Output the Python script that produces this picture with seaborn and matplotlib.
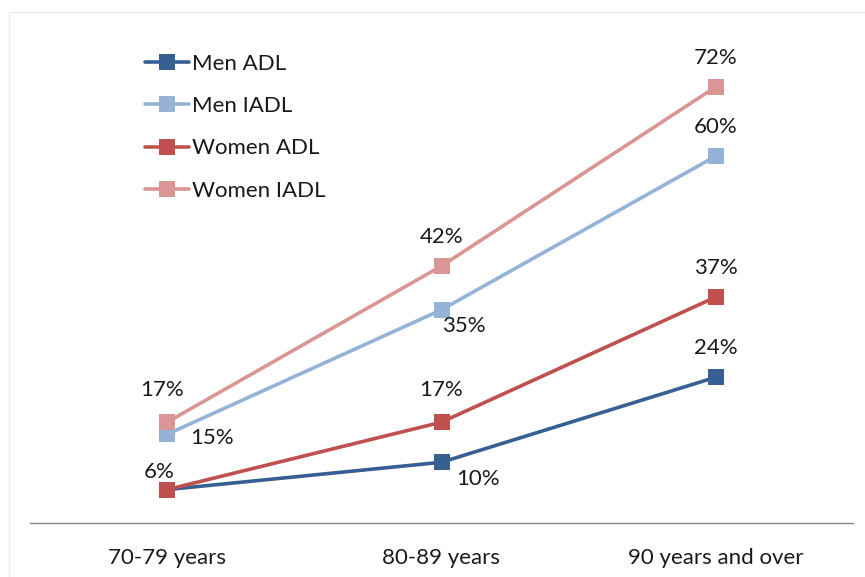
import matplotlib
matplotlib.use("Agg")
import matplotlib.pyplot as plt
import seaborn as sns
import pandas as pd
from matplotlib.patches import Rectangle

categories = ["70-79 years", "80-89 years", "90 years and over"]
series_names = ["Men ADL", "Men IADL", "Women ADL", "Women IADL"]
men_adl = [5.5, 10.0, 24.0]
men_iadl = [14.6, 35.1, 60.4]
women_adl = [5.5, 16.6, 37.2]
women_iadl = [16.6, 42.3, 71.8]

colors = ["#376092", "#95B3D7", "#C0504D", "#D99694"]

rows = []
for name, vals in zip(series_names, [men_adl, men_iadl, women_adl, women_iadl]):
    for i, (c, v) in enumerate(zip(categories, vals)):
        rows.append({"pos": i, "age": c, "value": v, "series": name})
df = pd.DataFrame(rows)

sns.set_theme(style="white")
plt.rcParams["font.family"] = ["Lato", "DejaVu Sans"]

FS = 16
fig = plt.figure(figsize=(8.65, 5.77), dpi=100)
ax = fig.add_axes([30 / 865, 54 / 577, (853 - 30) / 865, (523 - 37) / 577])

sns.lineplot(data=df, x="pos", y="value", hue="series", hue_order=series_names,
             palette=colors, marker="s", markersize=11, markeredgewidth=0,
             linewidth=2.6, ax=ax, legend=True)

ax.set_xlim(-0.5, 2.5)
ax.set_ylim(0, 80)
ax.set_xticks(range(len(categories)))
ax.set_xticklabels(categories, fontsize=FS, color="#1a1a1a")
ax.tick_params(axis="x", length=0, pad=18)
ax.set_yticks([])
ax.set_xlabel("")
ax.set_ylabel("")
for s in ["top", "right", "left"]:
    ax.spines[s].set_visible(False)
ax.spines["bottom"].set_color("#868686")
ax.spines["bottom"].set_linewidth(1.0)

# label offsets in points (dx, dy)
offsets = {
    "Men ADL": [(-6, 13), (26, -12), (0, 21)],
    "Men IADL": [(32, -3), (16, -12), (0, 21)],
    "Women ADL": [(-6, 13), (0, 23), (0, 21)],
    "Women IADL": [(-4, 23), (0, 21), (0, 21)],
}
skip = {("Women ADL", 0)}
for name, vals in zip(series_names, [men_adl, men_iadl, women_adl, women_iadl]):
    for i, v in enumerate(vals):
        if (name, i) in skip:
            continue
        dx, dy = offsets[name][i]
        ax.annotate(f"{v:.0f}%", (i, v), xytext=(dx, dy), textcoords="offset points",
                    ha="center", va="center", fontsize=FS, color="#1a1a1a")

leg = ax.legend(loc="upper left", bbox_to_anchor=(145 / 865, 1 - 54 / 577),
                bbox_transform=fig.transFigure, frameon=False, fontsize=FS,
                handlelength=2.0, handletextpad=0.1, labelspacing=1.0,
                borderaxespad=0, borderpad=0)
for t in leg.get_texts():
    t.set_color("#1a1a1a")

fig.patches.append(Rectangle((9 / 865, -0.1), 1.0, 1 - 12 / 577 + 0.1,
                             transform=fig.transFigure, fill=False,
                             edgecolor="#EBEBEB", linewidth=1.0, zorder=0))

fig.savefig("out.png", dpi=100)
